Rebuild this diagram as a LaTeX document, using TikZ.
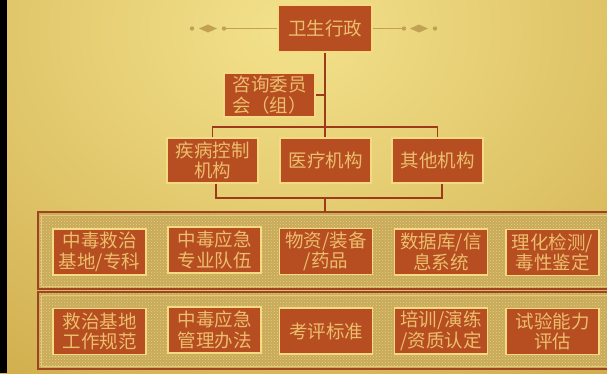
\documentclass[tikz,border=0pt]{standalone}
\usepackage{fontspec}
\newfontfamily\cjk{Noto Sans CJK SC}
\usetikzlibrary{patterns}
\definecolor{boxfill}{HTML}{B64E22}
\definecolor{boxedge}{HTML}{F6DA82}
\definecolor{boxtext}{HTML}{EBBE6C}
\definecolor{linecol}{HTML}{9C3A1A}
\definecolor{bglight}{HTML}{F3E28C}
\definecolor{bgdark}{HTML}{C29833}
\definecolor{ornament}{HTML}{C2A252}
\definecolor{panelbase}{HTML}{C8AA58}
\definecolor{paneldot}{HTML}{E4CE88}
\definecolor{paneledge}{HTML}{9E4420}
\definecolor{panelinner}{HTML}{E6C978}
\begin{document}
\begin{tikzpicture}[x=1pt,y=-1pt,
 orgbox/.style={draw=boxedge, line width=1.2pt, fill=boxfill, text=boxtext, minimum width=93pt, minimum height=46pt, inner sep=0pt, align=center, font=\cjk\fontsize{18.5}{20.5}\selectfont},
 link/.style={draw=linecol, line width=1.5pt},
 orn/.style={draw=ornament, line width=1pt}]
\useasboundingbox (0,0) rectangle (607,373);
\begin{scope}
\clip (0,0) rectangle (607,373);
\fill[bgdark] (0,0) rectangle (607,373);
\shade[inner color=bglight, outer color=bgdark] (290,30) ellipse (760 and 600);
\fill[black] (0,0) rectangle (7,373);
\foreach \t/\b in {212/289, 292/369} {
 \fill[panelbase] (38,\t) rectangle (620,\b);
 \fill[pattern=crosshatch dots, pattern color=paneldot] (38,\t) rectangle (620,\b);
 \draw[panelinner, line width=0.8pt] (41,\t+3) rectangle (620,\b-3);
 \draw[paneledge, line width=1.8pt] (38,\t) rectangle (620,\b);
}
\end{scope}

% top
\node[orgbox, minimum width=94pt, minimum height=47pt] (top) at (325,28.5) {卫生行政};
% ornaments
\coordinate (ol) at (224,28.5);
\coordinate (or) at (404,28.5);
\draw[orn] (ol) -- (top.west);
\draw[orn] (top.east) -- (or);
\fill[ornament] (ol) circle (2.2);
\fill[ornament] (192,28.5) circle (2.2);
\fill[ornament] (199,28.5) -- (208,24.5) -- (217,28.5) -- (208,32.5) -- cycle;
\fill[ornament] (or) circle (2.2);
\fill[ornament] (435,28.5) circle (2.2);
\fill[ornament] (410,28.5) -- (419,24.5) -- (428,28.5) -- (419,32.5) -- cycle;

\node[orgbox, minimum width=91pt, minimum height=44pt] (adv) at (269.5,95) {咨询委员\\会（组）};
\node[orgbox, minimum width=91pt, minimum height=45pt] (m1) at (212.5,160.5) {疾病控制\\机构};
\node[orgbox, minimum width=91pt, minimum height=45pt] (m2) at (325.5,160.5) {医疗机构};
\node[orgbox, minimum width=91pt, minimum height=45pt] (m3) at (437.5,160.5) {其他机构};

\node[orgbox] (a1) at (99.5,252) {中毒救治\\基地/专科};
\node[orgbox] (a2) at (214.5,250) {中毒应急\\专业队伍};
\node[orgbox] (a3) at (326,251.5) {物资/装备\\/药品};
\node[orgbox] (a4) at (441,252) {数据库/信\\息系统};
\node[orgbox] (a5) at (552.5,252.5) {理化检测/\\毒性鉴定};

\node[orgbox] (b1) at (99.5,331.5) {救治基地\\工作规范};
\node[orgbox] (b2) at (214.5,330) {中毒应急\\管理办法};
\node[orgbox] (b3) at (326,331) {考评标准};
\node[orgbox] (b4) at (441,331) {培训/演练\\/资质认定};
\node[orgbox] (b5) at (552.5,331.5) {试验能力\\评估};

% connectors
\coordinate (j1) at (325,127);
\coordinate (j2) at (325,198);
\coordinate (p1) at (325,212);
\draw[link] (top.south) -- (top.south |- m2.north);
\draw[link] (adv.east) -- (adv.east -| top.south);
\draw[link] (m1.north) -- (m1.north |- j1) -- (m3.north |- j1) -- (m3.north);
\draw[link] ([xshift=3.5pt]m1.south) -- ([xshift=3.5pt]m1.south |- j2) -- ([xshift=4.5pt]m3.south |- j2) -- ([xshift=4.5pt]m3.south);
\draw[link] (j2) -- (p1);
\end{tikzpicture}
\end{document}
